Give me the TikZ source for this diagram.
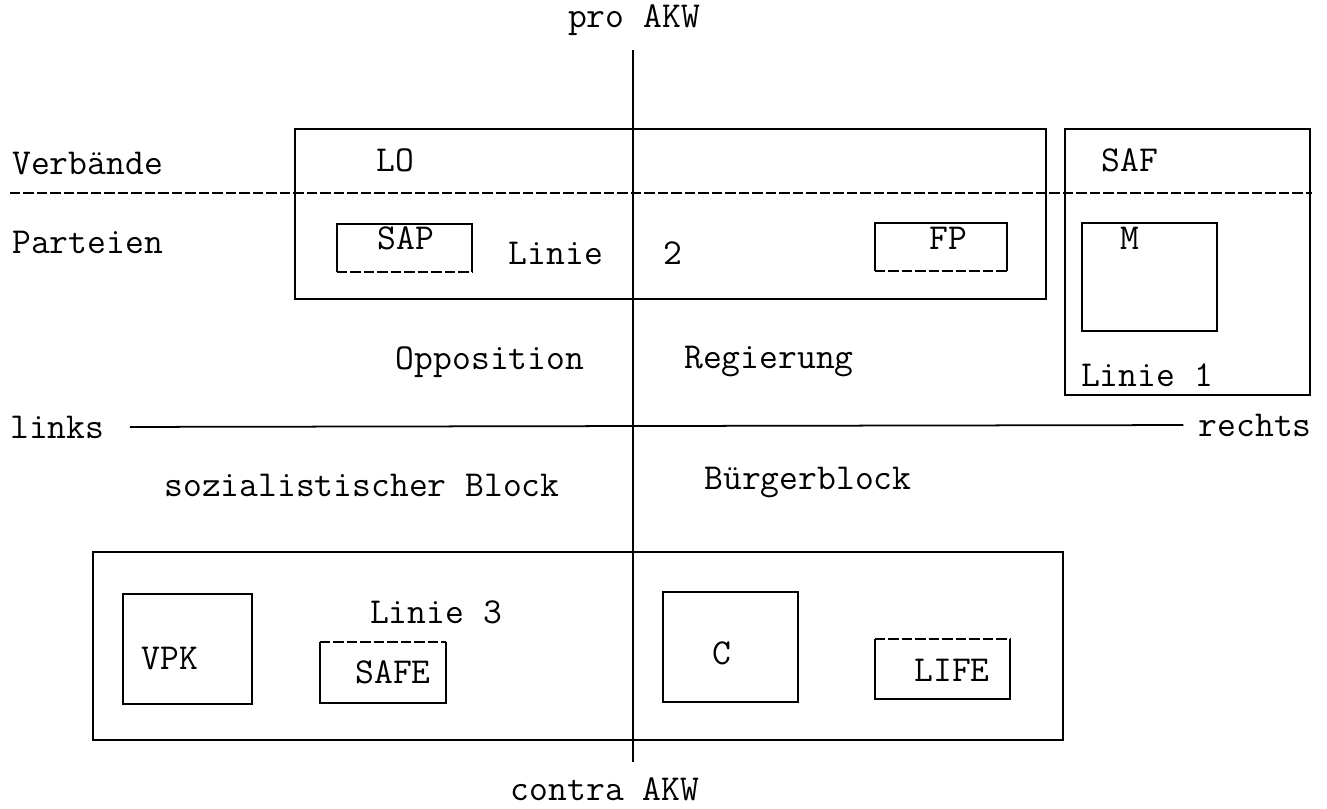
\documentclass[tikz,border=0pt]{standalone}
\usetikzlibrary{fit,positioning}
\tikzset{
  lbl/.style={font=\ttfamily\fontsize{20.8}{24}\selectfont, inner sep=0pt},
  frame/.style={draw, line width=1pt, inner sep=0pt},
  openframe/.style={inner sep=0pt},
  axis/.style={line width=1pt},
  split/.style={line width=1.1pt, dash pattern=on 0.21cm off 0.06cm}
}
\begin{document}
\begin{tikzpicture}[x=0.02cm,y=-0.02cm]
  \useasboundingbox (0,0) rectangle (1327,808);
  % axes
  \node[lbl] (pro) at (634,20) {pro AKW};
  \node[lbl] (contra) at (605,789) {contra AKW};
  \coordinate (axtop) at (633,50);
  \coordinate (axbot) at (633,762);
  \draw[axis] (axtop) -- (axbot);
  \node[lbl,anchor=west] (links) at (10,427) {links};
  \node[lbl,anchor=east] (rechts) at (1312,425) {rechts};
  \draw[axis,shorten <=0.5cm,shorten >=0.3cm] (links.east) -- (rechts.west);
  % upper half
  \node[frame,fit={(295,129) (1046,299)}] (lager) {};
  \node[frame,fit={(1065,129) (1310,395)}] (safbox) {};
  \coordinate (dl) at (10,193);
  \coordinate (dr) at (1312,193);
  \draw[split] (dl) -- (dr);
  \node[lbl,anchor=west] (verb) at (12,163) {Verbände};
  \node[lbl,anchor=west] (part) at (12,242) {Parteien};
  \node[lbl] (lo) at (395,160) {LO};
  \node[lbl] (saf) at (1130,160) {SAF};
  \node[openframe,fit={(337,224) (472,272)}] (sapbox) {};
  \draw[line width=1pt] (sapbox.south west) |- (sapbox.north east) -- (sapbox.south east);
  \draw[split] (sapbox.south west) -- (sapbox.south east);
  \node[lbl] (sap) at (406,238) {SAP};
  \node[lbl] (linie2) at (556,253) {Linie};
  \node[lbl] (zwei) at (673,253) {2};
  \node[openframe,fit={(875,223) (1007,271)}] (fpbox) {};
  \draw[line width=1pt] (fpbox.south west) |- (fpbox.north east) -- (fpbox.south east);
  \draw[split] (fpbox.south west) -- (fpbox.south east);
  \node[lbl] (fp) at (948,238) {FP};
  \node[frame,fit={(1082,223) (1217,331)}] (mbox) {};
  \node[lbl] (m) at (1130,238) {M};
  \node[lbl] (linie1) at (1147,375) {Linie 1};
  \node[lbl] (opp) at (490,362) {Opposition};
  \node[lbl] (reg) at (769,362) {Regierung};
  % lower half
  \node[lbl] (sozblock) at (362,485) {sozialistischer Block};
  \node[lbl] (bblock) at (808,483) {Bürgerblock};
  \node[frame,fit={(93,552) (1063,740)}] (lower) {};
  \node[frame,fit={(123,594) (252,704)}] (vpkbox) {};
  \node[lbl] (vpk) at (170,658) {VPK};
  \node[lbl] (linie3) at (436,612) {Linie 3};
  \node[openframe,fit={(320,642) (446,703)}] (safebox) {};
  \draw[line width=1pt] (safebox.north west) |- (safebox.south east) -- (safebox.north east);
  \draw[split] (safebox.north west) -- (safebox.north east);
  \node[lbl] (safe) at (393,672) {SAFE};
  \node[frame,fit={(663,592) (798,702)}] (cbox) {};
  \node[lbl] (c) at (722,653) {C};
  \node[openframe,fit={(875,639) (1010,699)}] (lifebox) {};
  \draw[line width=1pt] (lifebox.north west) |- (lifebox.south east) -- (lifebox.north east);
  \draw[split] (lifebox.north west) -- (lifebox.north east);
  \node[lbl] (life) at (952,670) {LIFE};
\end{tikzpicture}
\end{document}
